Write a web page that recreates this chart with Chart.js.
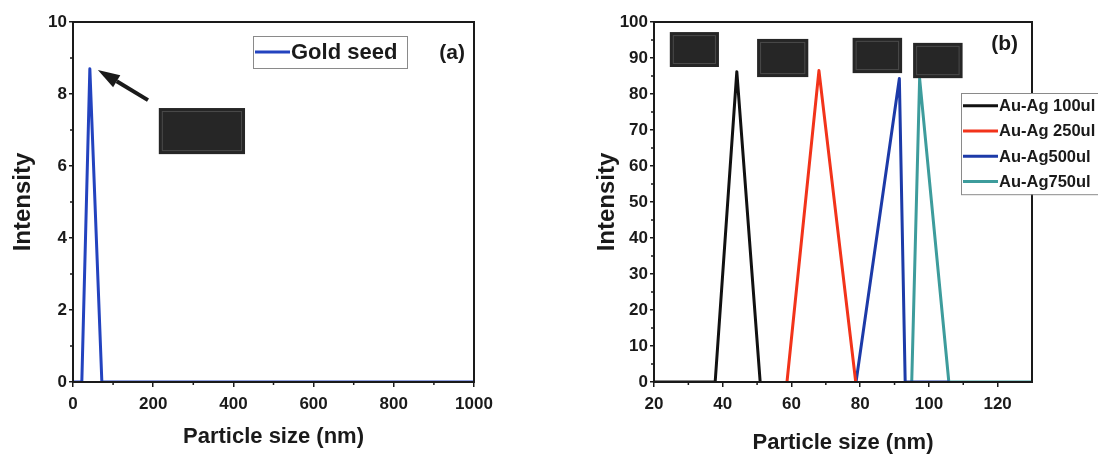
<!DOCTYPE html>
<html>
<head>
<meta charset="utf-8">
<script src="https://cdn.jsdelivr.net/npm/chart.js@4.4.1/dist/chart.umd.min.js"></script>
<style>
  html, body { margin: 0; padding: 0; background: #fff; }
  .panel { position: absolute; top: 0; width: 549px; height: 459px; }
  #panel-a { left: 0; }
  #panel-b { left: 549px; }
</style>
</head>
<body>
<div class="panel" id="panel-a"><canvas id="chart-a" width="549" height="459"></canvas></div>
<div class="panel" id="panel-b"><canvas id="chart-b" width="549" height="459"></canvas></div>
<script>
// ---- data ----

// (a) gold seed size distribution
const SEED_X = [0, 22, 42, 72, 1000];
const SEED_Y = [0, 0, 8.7, 0, 0];

// (b) Au-Ag samples
const AG100_X = [20, 37.8, 44.1, 50.9];
const AG100_Y = [0, 0, 86.2, 0];
const AG250_X = [58.7, 68.0, 78.7];
const AG250_Y = [0, 86.5, 0];
const AG500_X = [78.8, 91.4, 93.1, 106];
const AG500_Y = [0, 84.3, 0, 0];
const AG750_X = [95.0, 97.3, 105.8, 130];
const AG750_Y = [0, 84.3, 0, 0];
const AG_LABELS = ['Au-Ag 100ul', 'Au-Ag 250ul', 'Au-Ag500ul', 'Au-Ag750ul'];

// inset pictures (blacked out in the source), in data units: x0, x1, yTop, yBottom
const INSETS_A = [[214, 429, 7.61, 6.33]];
const INSETS_B = [
  [24.6, 38.9, 97.2, 87.5],
  [50.0, 64.9, 95.3, 84.7],
  [77.8, 92.2, 95.6, 85.8],
  [95.4, 109.8, 94.2, 84.4],
];
// arrow in (a): from tail to head, data units
const ARROW_A = [[187, 7.83], [62, 8.67]];

const INK = '#1a1a1a';
const FONT = 'Liberation Sans, Arial, sans-serif';

Chart.defaults.font.family = FONT;
Chart.defaults.font.weight = 'bold';
Chart.defaults.color = INK;
Chart.defaults.animation = false;

const pts = (xs, ys) => xs.map((x, i) => ({ x, y: ys[i] }));

const lineSet = (label, xs, ys, color) => ({
  label,
  data: pts(xs, ys),
  borderColor: color,
  backgroundColor: color,
  borderWidth: 3,
  pointRadius: 0,
  tension: 0,
  borderJoinStyle: 'round',
});

// frame, minor ticks, insets, arrow, legend box and panel tag
const decor = {
  id: 'decor',
  afterDraw(chart, args, o) {
    const { ctx, chartArea: a, scales } = chart;
    const sx = scales.x, sy = scales.y;
    ctx.save();

    (o.insets || []).forEach(r => {
      const x0 = sx.getPixelForValue(r[0]), x1 = sx.getPixelForValue(r[1]);
      const y0 = sy.getPixelForValue(r[2]), y1 = sy.getPixelForValue(r[3]);
      ctx.fillStyle = '#262626';
      ctx.fillRect(x0, y0, x1 - x0, y1 - y0);
      ctx.strokeStyle = '#4a4a4a';
      ctx.lineWidth = 1;
      ctx.strokeRect(x0 + 3.5, y0 + 3.5, x1 - x0 - 7, y1 - y0 - 7);
    });

    if (o.arrow) {
      const tx = sx.getPixelForValue(o.arrow[0][0]), ty = sy.getPixelForValue(o.arrow[0][1]);
      const hx = sx.getPixelForValue(o.arrow[1][0]), hy = sy.getPixelForValue(o.arrow[1][1]);
      const ang = Math.atan2(hy - ty, hx - tx);
      const hl = 22, hw = 7;
      const bx = hx - hl * Math.cos(ang), by = hy - hl * Math.sin(ang);
      ctx.strokeStyle = INK;
      ctx.lineWidth = 4;
      ctx.beginPath();
      ctx.moveTo(tx, ty);
      ctx.lineTo(bx, by);
      ctx.stroke();
      ctx.fillStyle = INK;
      ctx.beginPath();
      ctx.moveTo(hx, hy);
      ctx.lineTo(bx + hw * Math.sin(ang), by - hw * Math.cos(ang));
      ctx.lineTo(bx - hw * Math.sin(ang), by + hw * Math.cos(ang));
      ctx.closePath();
      ctx.fill();
    }

    // minor ticks
    ctx.strokeStyle = INK;
    ctx.lineWidth = 1.5;
    for (let v = sx.min + o.minorX; v < sx.max; v += o.minorX * 2) {
      const px = sx.getPixelForValue(v);
      ctx.beginPath(); ctx.moveTo(px, a.bottom); ctx.lineTo(px, a.bottom + 3); ctx.stroke();
    }
    for (let v = sy.min + o.minorY; v < sy.max; v += o.minorY * 2) {
      const py = sy.getPixelForValue(v);
      ctx.beginPath(); ctx.moveTo(a.left, py); ctx.lineTo(a.left - 3, py); ctx.stroke();
    }

    // frame
    ctx.lineWidth = 2;
    ctx.strokeRect(a.left, a.top, a.right - a.left, a.bottom - a.top);

    // legend box
    const lg = o.legend;
    const sets = chart.data.datasets;
    const boxH = lg.rowH * sets.length + lg.pad;
    ctx.fillStyle = '#fff';
    ctx.fillRect(lg.left, lg.top, lg.width, boxH);
    ctx.strokeStyle = '#8a8a8a';
    ctx.lineWidth = 1;
    ctx.strokeRect(lg.left + 0.5, lg.top + 0.5, lg.width, boxH);
    ctx.font = `bold ${lg.size}px ${FONT}`;
    ctx.textBaseline = 'middle';
    ctx.textAlign = 'left';
    sets.forEach((d, i) => {
      const y = lg.top + lg.pad / 2 + lg.rowH * (i + 0.5);
      ctx.strokeStyle = d.borderColor;
      ctx.lineWidth = 3;
      ctx.beginPath();
      ctx.moveTo(lg.left + 2, y);
      ctx.lineTo(lg.left + 2 + lg.lineLen, y);
      ctx.stroke();
      ctx.fillStyle = INK;
      ctx.fillText(d.label, lg.left + lg.lineLen + 3, y + 1);
    });

    // panel tag
    ctx.font = `bold 21px ${FONT}`;
    ctx.textAlign = 'right';
    ctx.fillStyle = INK;
    ctx.fillText(o.tag, a.right - o.tagInset[0], a.top + o.tagInset[1]);
    ctx.restore();
  }
};

const axisX = (min, max, step, titlePad) => ({
  type: 'linear',
  min, max,
  afterFit: s => { s.height = 77; },
  border: { display: true, color: INK, width: 2 },
  grid: { drawOnChartArea: false, drawTicks: true, tickLength: 5, color: INK, lineWidth: 1.5 },
  ticks: {
    stepSize: step, includeBounds: false, padding: 7, maxRotation: 0,
    font: { size: 17, weight: 'bold' }, color: INK,
    callback: v => String(v),
  },
  title: { display: true, text: 'Particle size (nm)', font: { size: 22, weight: 'bold' }, color: INK, padding: { top: 0, bottom: titlePad } },
});

const axisY = (min, max, step, width, titlePad) => ({
  min, max,
  afterFit: s => { s.width = width; },
  border: { display: true, color: INK, width: 2 },
  grid: { drawOnChartArea: false, drawTicks: true, tickLength: 4, color: INK, lineWidth: 1.5 },
  ticks: { stepSize: step, padding: 2, font: { size: 17, weight: 'bold' }, color: INK, callback: v => String(v) },
  title: { display: true, text: 'Intensity', font: { size: 24, weight: 'bold' }, color: INK, padding: { top: titlePad, bottom: 0 } },
});

new Chart(document.getElementById('chart-a'), {
  type: 'line',
  data: { datasets: [lineSet('Gold seed', SEED_X, SEED_Y, '#2343bf')] },
  options: {
    responsive: false,
    layout: { padding: { left: 0, top: 22, right: 75, bottom: 0 } },
    scales: {
      x: axisX(0, 1000, 200, 9),
      y: axisY(0, 10, 2, 73, 8.6),
    },
    plugins: {
      legend: { display: false },
      tooltip: { enabled: false },
      decor: {
        insets: INSETS_A,
        arrow: ARROW_A,
        minorX: 100, minorY: 1,
        legend: { left: 253, top: 36, width: 154, rowH: 28, pad: 4, lineLen: 35, size: 22 },
        tag: '(a)', tagInset: [9, 31],
      },
    },
  },
  plugins: [decor],
});

new Chart(document.getElementById('chart-b'), {
  type: 'line',
  data: {
    datasets: [
      lineSet(AG_LABELS[0], AG100_X, AG100_Y, '#111111'),
      lineSet(AG_LABELS[1], AG250_X, AG250_Y, '#f2331a'),
      lineSet(AG_LABELS[2], AG500_X, AG500_Y, '#1c3aa8'),
      lineSet(AG_LABELS[3], AG750_X, AG750_Y, '#3d9c9c'),
    ],
  },
  options: {
    responsive: false,
    layout: { padding: { left: 30, top: 22, right: 66, bottom: 0 } },
    scales: {
      x: axisX(20, 130, 20, 3),
      y: axisY(0, 100, 10, 75, 13.6),
    },
    plugins: {
      legend: { display: false },
      tooltip: { enabled: false },
      decor: {
        insets: INSETS_B,
        minorX: 10, minorY: 5,
        legend: { left: 412, top: 93, width: 140, rowH: 25.3, pad: 0, lineLen: 35, size: 16.5 },
        tag: '(b)', tagInset: [14, 22],
      },
    },
  },
  plugins: [decor],
});
</script>
</body>
</html>
